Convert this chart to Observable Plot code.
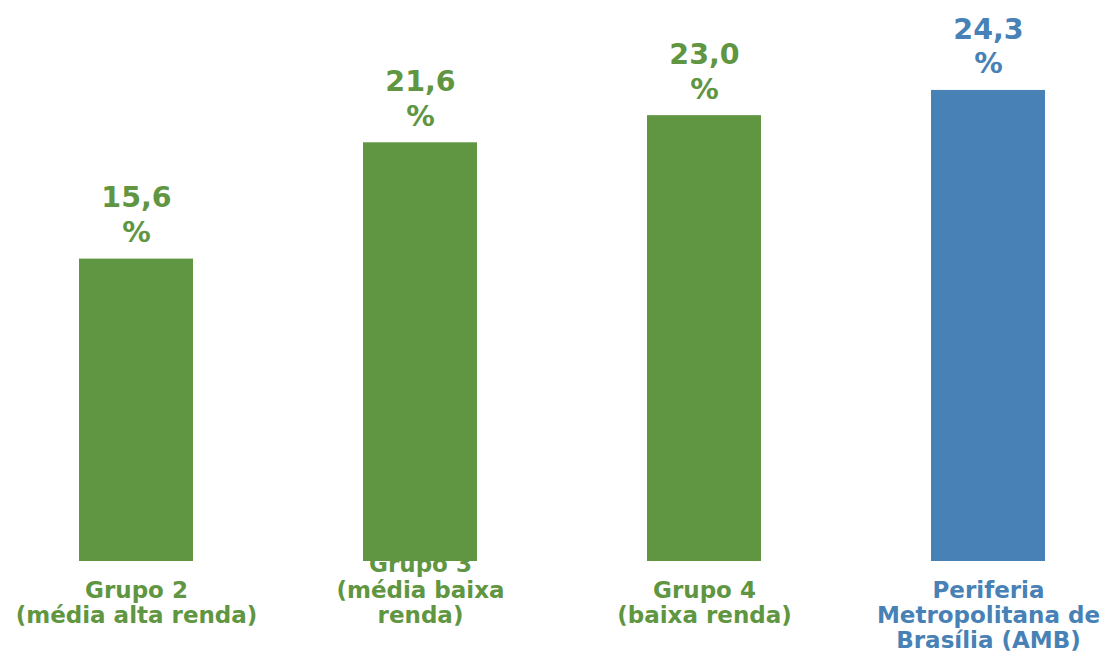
<!DOCTYPE html>
<html>
<head>
<meta charset="utf-8">
<script src="https://cdn.jsdelivr.net/npm/d3@7"></script>
<script src="https://cdn.jsdelivr.net/npm/@observablehq/plot@0.6"></script>
<style>
  html, body { margin: 0; padding: 0; background: #ffffff; }
  #chart { width: 1105px; height: 655px; }
</style>
</head>
<body>
<div id="chart"></div>
<script>
const categories = ["Grupo 2", "Grupo 3", "Grupo 4", "Periferia Metropolitana de Brasília (AMB)"];
const tickLabels = [
  "Grupo 2\n(média alta renda)",
  "Grupo 3\n(média baixa\nrenda)",
  "Grupo 4\n(baixa renda)",
  "Periferia\nMetropolitana de\nBrasília (AMB)"
];
const values = [15.6, 21.6, 23.0, 24.3];
const groups = ["Grupos", "Grupos", "Grupos", "AMB"];

const data = categories.map((c, i) => ({
  cat: c,
  label: tickLabels[i],
  value: values[i],
  group: groups[i],
  valueText: values[i].toFixed(1).replace(".", ",") + "\n%"
}));

const GREEN = "#609641";
const BLUE = "#4781B5";
const font = "'DejaVu Sans', Verdana, sans-serif";

const chart = Plot.plot({
  width: 1105,
  height: 655,
  marginTop: 0,
  marginBottom: 94,
  marginLeft: 18,
  marginRight: 0,
  style: { fontFamily: font, background: "#ffffff" },
  x: { domain: categories, paddingInner: 0.6, paddingOuter: 0.21, axis: null },
  y: { domain: [0, 28.94], axis: null },
  color: { domain: ["Grupos", "AMB"], range: [GREEN, BLUE] },
  marks: [
    Plot.barY(data, { x: "cat", y: "value", fill: "group" }),
    Plot.text(data, {
      x: "cat", y: "value", text: "valueText", fill: "group",
      lineAnchor: "bottom", lineHeight: 1.22, dy: -17,
      fontSize: 28.5, fontWeight: "bold"
    }),
    Plot.text(data.filter(d => d.cat !== "Grupo 3"), {
      x: "cat", text: "label", fill: "group", frameAnchor: "bottom",
      lineAnchor: "top", lineHeight: 1.08, dy: 19,
      fontSize: 23, fontWeight: "bold"
    }),
    Plot.text(data.filter(d => d.cat === "Grupo 3"), {
      x: "cat", text: "label", fill: "group", frameAnchor: "bottom",
      lineAnchor: "top", lineHeight: 1.1, dy: -7,
      fontSize: 23, fontWeight: "bold"
    })
  ]
});

document.getElementById("chart").appendChild(chart);
</script>
</body>
</html>
